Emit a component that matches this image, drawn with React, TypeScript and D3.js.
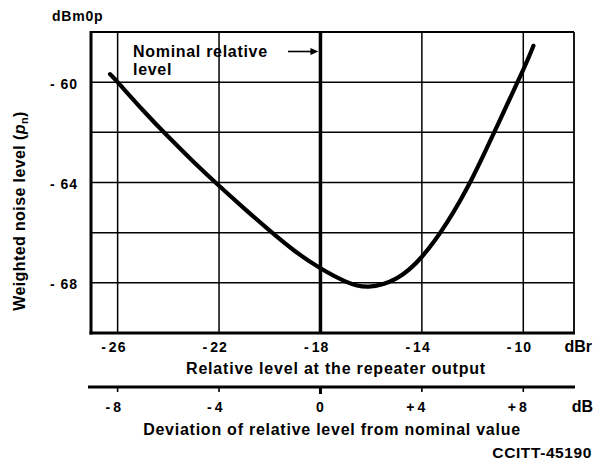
import React, { useEffect, useRef } from "react";
import * as d3 from "d3";

// curve: relative level (dBr) vs weighted noise (dBm0p)
const relLevel = [
	-26.3, -26, -25, -24, -23, -22, -21, -20, -19, -18, -17, -16.1, -15, -14,
	-13, -12, -11, -10, -9.6,
];
const noiseLevel = [
	-59.68, -60, -61.12, -62.18, -63.18, -64.13, -65.04, -65.92, -66.74,
	-67.42, -67.95, -68.15, -67.82, -66.96, -65.58, -63.8, -61.68, -59.5,
	-58.55,
];

const xTicks = [-26, -22, -18, -14, -10];
const yGrid = [-60, -62, -64, -66, -68];
const yTicks = [-60, -64, -68];
const devTicks = [-8, -4, 0, 4, 8];
const nominal = -18;

const FONT = "'Liberation Sans', Arial, sans-serif";

const App: React.FC = () => {
	const ref = useRef<SVGSVGElement | null>(null);

	useEffect(() => {
		if (!ref.current) return;
		const svg = d3.select(ref.current);
		svg.selectAll("*").remove();

		const margin = { top: 32, right: 20, bottom: 128, left: 91 };
		const width = 594;
		const height = 461;

		const x = d3
			.scaleLinear()
			.domain([-27.05, -8])
			.range([margin.left, width - margin.right]);
		const y = d3
			.scaleLinear()
			.domain([-70, -58])
			.range([height - margin.bottom, margin.top]);
		// deviation from nominal = relative level - nominal
		const xDev = d3
			.scaleLinear()
			.domain(x.domain().map((d) => d - nominal))
			.range(x.range());

		const [x0, x1] = x.range();
		const [y0, y1] = y.range();

		const g = svg.append("g").attr("fill", "none").attr("stroke", "#000");

		// grid
		g.selectAll(".vgrid")
			.data(xTicks)
			.enter()
			.append("line")
			.attr("x1", (d) => x(d))
			.attr("x2", (d) => x(d))
			.attr("y1", y1)
			.attr("y2", y0)
			.attr("stroke-width", (d) => (d === nominal ? 3.5 : 1.5));

		g.selectAll(".hgrid")
			.data(yGrid)
			.enter()
			.append("line")
			.attr("x1", x0)
			.attr("x2", x1)
			.attr("y1", (d) => y(d))
			.attr("y2", (d) => y(d))
			.attr("stroke-width", 1.5);

		// frame
		g.append("line").attr("x1", x0).attr("x2", x1).attr("y1", y1).attr("y2", y1).attr("stroke-width", 1.8);
		g.append("line").attr("x1", x1).attr("x2", x1).attr("y1", y1).attr("y2", y0).attr("stroke-width", 1.8);
		g.append("line").attr("x1", x0).attr("x2", x0).attr("y1", y1 - 1).attr("y2", y0 + 1.5).attr("stroke-width", 3);
		g.append("line").attr("x1", x0 - 1.5).attr("x2", x1 + 1).attr("y1", y0).attr("y2", y0).attr("stroke-width", 3);

		// curve
		const line = d3
			.line<number>()
			.x((d) => x(d))
			.y((_, i) => y(noiseLevel[i]))
			.curve(d3.curveNatural);
		g.append("path")
			.attr("d", line(relLevel))
			.attr("stroke-width", 4.2)
			.attr("stroke-linecap", "round")
			.attr("stroke-linejoin", "round");

		const t = svg
			.append("g")
			.attr("font-family", FONT)
			.attr("font-weight", "bold")
			.attr("fill", "#000");

		const sign = (d: number, plus: boolean) =>
			d < 0 ? "-" : d > 0 && plus ? "+" : "";

		// tick labels: digits centred, sign set apart on the left
		const tickLabel = (
			sel: d3.Selection<SVGGElement, unknown, null, undefined>,
			vals: number[],
			sx: (v: number) => number,
			yy: number,
			plus: boolean
		) => {
			const lab = sel
				.selectAll(null)
				.data(vals)
				.enter()
				.append("g")
				.attr("transform", (d) => `translate(${sx(d)},${yy})`)
				.attr("font-size", 14);
			lab.append("text")
				.attr("text-anchor", "middle")
				.attr("letter-spacing", 1)
				.text((d) => Math.abs(d));
			lab.append("text")
				.attr("text-anchor", "end")
				.attr("x", (d) => -(String(Math.abs(d)).length * 8.8) / 2 - 3)
				.text((d) => sign(d, plus));
		};

		tickLabel(t, xTicks, x, 352, false);
		tickLabel(t, devTicks, xDev, 412, true);

		t.selectAll(".ylab")
			.data(yTicks)
			.enter()
			.append("text")
			.attr("x", 78)
			.attr("y", (d) => y(d) + 6.5)
			.attr("text-anchor", "end")
			.attr("font-size", 14)
			.attr("letter-spacing", 1)
			.attr("xml:space", "preserve")
			.text((d) => `- ${Math.abs(d)}`);

		t.append("text")
			.attr("x", 52)
			.attr("y", 21)
			.attr("font-size", 14)
			.attr("letter-spacing", 0.8)
			.text("dBm0p");

		t.append("text")
			.attr("x", 592)
			.attr("y", 352)
			.attr("text-anchor", "end")
			.attr("font-size", 16)
			.text("dBr");
		t.append("text")
			.attr("x", 593)
			.attr("y", 412)
			.attr("text-anchor", "end")
			.attr("font-size", 16)
			.text("dB");

		t.append("text")
			.attr("x", 336)
			.attr("y", 374)
			.attr("text-anchor", "middle")
			.attr("font-size", 16)
			.attr("letter-spacing", 0.8)
			.text("Relative level at the repeater output");
		t.append("text")
			.attr("x", 332)
			.attr("y", 435)
			.attr("text-anchor", "middle")
			.attr("font-size", 16)
			.attr("letter-spacing", 0.75)
			.text("Deviation of relative level from nominal value");

		const yt = t
			.append("text")
			.attr("transform", "translate(25,211) rotate(-90)")
			.attr("text-anchor", "middle")
			.attr("font-size", 16)
			.attr("letter-spacing", 0.4);
		yt.append("tspan").text("Weighted noise level (");
		yt.append("tspan").attr("font-style", "italic").text("p");
		yt.append("tspan").attr("font-size", 11).attr("dy", 3).text("n");
		yt.append("tspan").attr("dy", -3).text(")");

		t.append("text")
			.attr("x", 592)
			.attr("y", 458)
			.attr("text-anchor", "end")
			.attr("font-size", 15.5)
			.attr("letter-spacing", 0.6)
			.text("CCITT-45190");

		// annotation
		t.append("text")
			.attr("x", 133)
			.attr("y", 57)
			.attr("font-size", 16)
			.attr("letter-spacing", 0.7)
			.text("Nominal relative");
		t.append("text")
			.attr("x", 133)
			.attr("y", 75)
			.attr("font-size", 16)
			.attr("letter-spacing", 0.7)
			.text("level");

		const ay = 51.5;
		const tip = x(nominal) - 2;
		t.append("line")
			.attr("x1", 288)
			.attr("x2", tip - 6)
			.attr("y1", ay)
			.attr("y2", ay)
			.attr("stroke", "#000")
			.attr("stroke-width", 1.6);
		t.append("path")
			.attr("d", `M${tip},${ay} L${tip - 8},${ay - 3.5} L${tip - 8},${ay + 3.5} Z`);

		// second axis: deviation from nominal value
		const axY = 387;
		g.append("line")
			.attr("x1", x0 - 3)
			.attr("x2", x1 + 1)
			.attr("y1", axY)
			.attr("y2", axY)
			.attr("stroke-width", 3);
		g.selectAll(".devtick")
			.data(devTicks)
			.enter()
			.append("line")
			.attr("x1", (d) => xDev(d))
			.attr("x2", (d) => xDev(d))
			.attr("y1", axY)
			.attr("y2", (d) => axY + (d === 0 ? 7 : 5))
			.attr("stroke-width", (d) => (d === 0 ? 3 : 1.6));
	}, []);

	return (
		<svg
			ref={ref}
			width={594}
			height={461}
			style={{ position: "absolute", left: 0, top: 0, background: "#fff" }}
		/>
	);
};

export default App;
